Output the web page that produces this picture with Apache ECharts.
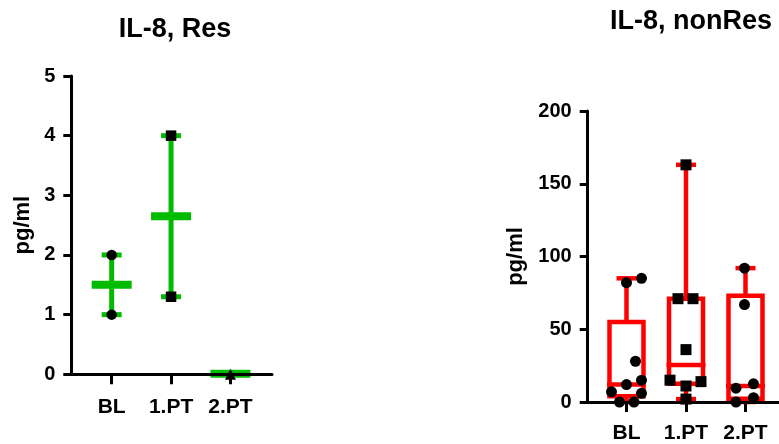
<!DOCTYPE html>
<html>
<head>
<meta charset="utf-8">
<script src="https://cdn.jsdelivr.net/npm/echarts@6/dist/echarts.min.js"></script>
<style>
html,body{margin:0;padding:0;background:#fff;}
#c{width:779px;height:444px;}
</style>
</head>
<body>
<div id="c"></div>
<script>
// ---------- data ----------
const categories = ['BL', '1.PT', '2.PT'];

// Left panel: IL-8, Res (mean with range)
const resPoints = [[2, 1], [4, 1.3], [0]];
const resMean = [1.5, 2.65, 0.01];
const resMin = [1, 1.3, 0];
const resMax = [2, 4, 0];
const resTicks = [0, 1, 2, 3, 4, 5];

// Right panel: IL-8, nonRes (box & whiskers: min, Q1, median, Q3, max)
const nonResPoints = [
  [85, 82, 28, 15, 12, 7, 6, 0, 0],
  [163, 71, 71, 36, 15, 14, 11, 2],
  [92, 67, 12.5, 9.5, 3, 0]
];
const nonResMin = [0, 2, 0];
const nonResQ1 = [4, 12.5, 2.3];
const nonResMedian = [12, 25.5, 11];
const nonResQ3 = [55, 71, 73];
const nonResMax = [85, 163, 92];
const nonResTicks = [0, 50, 100, 150, 200];

// ---------- layout / style ----------
const jitterPx = [
  [15, 0, 9, 15, 0, -15, 15, -7, 7.5],
  [0, -8, 7, 0, -16, 15, 0, 0],
  [-1, -1, 8, -9.5, 8, -9.5]
];
const resSymbols = ['circle', 'rect', 'triangle'];
const nonResSymbols = ['circle', 'rect', 'circle'];
const GREEN = '#00bb00';
const RED = '#ff0000';
const FONT = "'Liberation Sans', Arial, sans-serif";
const PX_PER_CAT_R = 59.5;

const chart = echarts.init(document.getElementById('c'), null, {renderer: 'canvas'});

function catAxis(gridIndex, min, max, margin) {
  return {
    type: 'value', gridIndex, min, max, z: 2,
    splitLine: {show: false},
    axisLine: {show: true, onZero: false, lineStyle: {color: '#000', width: 3}},
    axisTick: {show: true, length: 10, lineStyle: {color: '#000', width: 3}, customValues: [0, 1, 2]},
    axisLabel: {
      customValues: [0, 1, 2], margin,
      formatter: v => categories[Math.round(v)] || '',
      fontFamily: FONT, fontWeight: 'bold', fontSize: 21, color: '#000'
    }
  };
}
function valAxis(gridIndex, ticks, gap) {
  return {
    type: 'value', gridIndex, min: ticks[0], max: ticks[ticks.length - 1],
    interval: ticks[1] - ticks[0], z: 2,
    name: 'pg/ml', nameLocation: 'middle', nameGap: gap,
    nameTextStyle: {fontFamily: FONT, fontWeight: 'bold', fontSize: 22, color: '#000'},
    splitLine: {show: false},
    axisLine: {show: true, onZero: false, lineStyle: {color: '#000', width: 3}},
    axisTick: {show: true, length: 8, lineStyle: {color: '#000', width: 3}},
    axisLabel: {margin: 16, fontFamily: FONT, fontWeight: 'bold', fontSize: 20, color: '#000'}
  };
}

function renderRes(params, api) {
  const x = api.value(0);
  const pm = api.coord([x, api.value(1)]);
  const pl = api.coord([x, api.value(2)]);
  const ph = api.coord([x, api.value(3)]);
  const st = {fill: GREEN};
  return {type: 'group', children: [
    {type: 'rect', shape: {x: pm[0] - 2.5, y: ph[1], width: 5, height: pl[1] - ph[1]}, style: st},
    {type: 'rect', shape: {x: pm[0] - 10, y: ph[1] - 2.5, width: 20, height: 5}, style: st},
    {type: 'rect', shape: {x: pm[0] - 10, y: pl[1] - 2.5, width: 20, height: 5}, style: st},
    {type: 'rect', shape: {x: pm[0] - 20, y: pm[1] - 4, width: 40, height: 8}, style: st}
  ]};
}

function renderBox(params, api) {
  const x = api.value(0);
  const pMin = api.coord([x, api.value(1)]);
  const pQ1 = api.coord([x, api.value(2)]);
  const pMed = api.coord([x, api.value(3)]);
  const pQ3 = api.coord([x, api.value(4)]);
  const pMax = api.coord([x, api.value(5)]);
  const cx = pMed[0];
  const lw = 4.5;
  const ln = (x1, y1, x2, y2) => ({type: 'line', shape: {x1, y1, x2, y2}, style: {stroke: RED, lineWidth: lw}});
  return {type: 'group', children: [
    {type: 'rect', shape: {x: cx - 17, y: pQ3[1], width: 34, height: pQ1[1] - pQ3[1]}, style: {fill: 'none', stroke: RED, lineWidth: lw}},
    ln(cx - 19.5, pMed[1], cx + 19.5, pMed[1]),
    ln(cx, pQ3[1], cx, pMax[1]),
    ln(cx, pQ1[1], cx, pMin[1]),
    ln(cx - 10, pMax[1], cx + 10, pMax[1]),
    ln(cx - 10, pMin[1], cx + 10, pMin[1])
  ]};
}

const resData = categories.map((c, i) => [i, resMean[i], resMin[i], resMax[i]]);
const boxData = categories.map((c, i) => [i, nonResMin[i], nonResQ1[i], nonResMedian[i], nonResQ3[i], nonResMax[i]]);

const series = [
  {type: 'custom', xAxisIndex: 0, yAxisIndex: 0, z: 1, clip: false, renderItem: renderRes,
   encode: {x: 0, y: [1, 2, 3]}, data: resData, silent: true},
  {type: 'custom', xAxisIndex: 1, yAxisIndex: 1, z: 1, clip: false, renderItem: renderBox,
   encode: {x: 0, y: [1, 2, 3, 4, 5]}, data: boxData, silent: true}
];
categories.forEach((c, i) => {
  series.push({
    type: 'scatter', xAxisIndex: 0, yAxisIndex: 0, z: 5, clip: false,
    symbol: resSymbols[i], symbolSize: i === 2 ? 11 : 10.5,
    itemStyle: {color: '#000', opacity: 1},
    data: resPoints[i].map(v => [i, v])
  });
  series.push({
    type: 'scatter', xAxisIndex: 1, yAxisIndex: 1, z: 5, clip: false,
    symbol: nonResSymbols[i], symbolSize: 11,
    itemStyle: {color: '#000', opacity: 1},
    data: nonResPoints[i].map((v, k) => [i + jitterPx[i][k] / PX_PER_CAT_R, v])
  });
});

chart.setOption({
  animation: false,
  backgroundColor: '#fff',
  title: [
    {text: 'IL-8, Res', left: 170, top: 11, textAlign: 'center',
     textStyle: {fontFamily: FONT, fontWeight: 'bold', fontSize: 27, color: '#000'}},
    {text: 'IL-8, nonRes', left: 686, top: 3, textAlign: 'center',
     textStyle: {fontFamily: FONT, fontWeight: 'bold', fontSize: 27, color: '#000'}}
  ],
  grid: [
    {left: 71.3, top: 76, width: 200.7, height: 298.3, containLabel: false},
    {left: 587.7, top: 111, width: 191.3, height: 294, containLabel: false}
  ],
  xAxis: [catAxis(0, -0.68, 2.70, 22), catAxis(1, -0.652, 2.563, 21)],
  yAxis: [valAxis(0, resTicks, 37), valAxis(1, nonResTicks, 61)],
  series
});
</script>
</body>
</html>
